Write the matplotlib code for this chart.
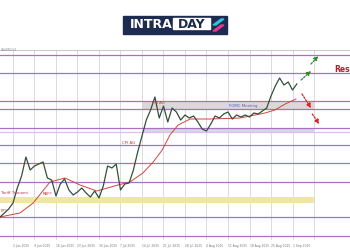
import matplotlib.pyplot as plt
from matplotlib.patches import Rectangle, Polygon

# price path (4H closes, one per day index)
days = list(range(-3, 67))
close = [3057, 3069, 3081, 3099, 3144, 3180, 3237, 3198, 3210, 3216,
         3222, 3174, 3168, 3120, 3156, 3171, 3138, 3123, 3132, 3144,
         3129, 3117, 3135, 3114, 3150, 3210, 3204, 3216, 3138, 3156,
         3159, 3198, 3252, 3300, 3348, 3378, 3417, 3354, 3390, 3342,
         3384, 3372, 3348, 3363, 3354, 3360, 3342, 3321, 3315, 3336,
         3360, 3354, 3366, 3372, 3351, 3363, 3357, 3363, 3357, 3369,
         3366, 3375, 3384, 3420, 3450, 3474, 3453, 3462, 3438, 3456]

ma_days = [-3.0, 1.6, 4.7, 8.6, 12.1, 15.6, 19.5, 24.4, 27.2, 30.2, 32.6,
           34.7, 36.5, 38.4, 41.2, 45.8, 52.8, 58.6, 60.9, 63.3, 65.8]
ma_vals = [3057, 3069, 3099, 3162, 3174, 3153, 3135, 3153, 3162, 3189, 3222,
           3258, 3303, 3333, 3351, 3351, 3354, 3369, 3378, 3396, 3411]

levels = [3543, 3489, 3405, 3381, 3324, 3273, 3219, 3162, 3057, 3000]
light_level = 3312
gray_zones = [(3381, 3405), (3312, 3324)]
yellow_zone = (3099, 3117)

grid_days = list(range(0, 71, 5))
date_labels = ["2 Jun 2025", "9 Jun 2025", "16 Jun 2025", "23 Jun 2025",
               "30 Jun 2025", "7 Jul 2025", "14 Jul 2025", "21 Jul 2025",
               "28 Jul 2025", "4 Aug 2025", "11 Aug 2025", "18 Aug 2025",
               "25 Aug 2025", "1 Sep 2025", ""]

notes = [("PPI AG", 32.3, 3399, "#c0392b"), ("CPI AG", 25.3, 3279, "#c0392b"),
         ("FOMC Meeting", 50.2, 3390, "#4a5fc1"), ("Tariff Tsunami", -2.9, 3129, "#c0392b"),
         ("RBP?", 7.0, 3126, "#c0392b"), ("PP?", -2.9, 3075, "#c0392b")]

up_arrows = [((67.0, 3468), (69.3, 3495)), ((69.3, 3516), (71.0, 3540))]
down_arrows = [((67.2, 3426), (69.3, 3384)), ((69.6, 3366), (71.2, 3336))]

fig = plt.figure(figsize=(3.5, 2.5), dpi=100)
ax = fig.add_axes([0, 0.04, 1, 0.76])
ax.set_xlim(-3.02, 78.37)
ax.set_ylim(2988, 3558)

for d in grid_days:
    ax.axvline(d, color="#d6d6d6", lw=0.6, zorder=0)
for lo, hi in gray_zones:
    ax.fill_between([30, 70], lo, hi, color="#d9d9d9", lw=0, zorder=1)
ax.fill_between([-3.02, 70], *yellow_zone, color="#efe6a4", lw=0, zorder=1)
for lv in levels:
    ax.axhline(lv, color="#a772c2", lw=0.9, zorder=2)
ax.axhline(light_level, color="#dcbfe8", lw=0.9, zorder=2)

ax.plot(ma_days, ma_vals, color="#d0463c", lw=0.7, zorder=3)
ax.plot(days, close, color="#34503a", lw=0.9, zorder=4)

for txt, x, y, c in notes:
    ax.text(x, y, txt, fontsize=2.8, color=c, va="center", ha="left", zorder=5)
ax.text(74.6, 3501, "Res", fontsize=5.5, color="#b01e2e",
        fontweight="bold", va="center", ha="left")

for (x0, y0), (x1, y1) in up_arrows:
    ax.annotate("", xy=(x1, y1), xytext=(x0, y0),
                arrowprops=dict(arrowstyle="-|>", ls=(0, (1.5, 1.2)), color="#2e8b2e",
                                lw=0.9, mutation_scale=6, shrinkA=0, shrinkB=0))
for (x0, y0), (x1, y1) in down_arrows:
    ax.annotate("", xy=(x1, y1), xytext=(x0, y0),
                arrowprops=dict(arrowstyle="-|>", ls=(0, (1.5, 1.2)), color="#d62020",
                                lw=0.9, mutation_scale=6, shrinkA=0, shrinkB=0))

ax.set_xticks(grid_days)
ax.set_xticklabels(date_labels, fontsize=2.2, color="#777777", ha="left")
ax.tick_params(axis="x", length=0, pad=3)
ax.set_yticks([])
for s in ["left", "right", "bottom"]:
    ax.spines[s].set_visible(False)
ax.spines["top"].set_color("#bdbdbd")
ax.spines["top"].set_linewidth(0.6)
fig.text(0.002, 0.793, "XAUUSD,H4", fontsize=2, color="#888888", va="bottom")

# logo
fig.patches.append(Rectangle((123 / 350, 216 / 250), 104 / 350, 18 / 250,
                             transform=fig.transFigure, color="#1e2b50"))
fig.patches.append(Rectangle((173 / 350, 221 / 250), 37 / 350, 11 / 250,
                             transform=fig.transFigure, color="white"))
fig.text(151 / 350, 226 / 250, "INTRA", color="white", fontsize=9,
         fontweight="bold", ha="center", va="center")
fig.text(191.5 / 350, 226 / 250, "DAY", color="#1e2b50", fontsize=9,
         fontweight="bold", ha="center", va="center")
fig.patches.append(Polygon([(213 / 350, 225 / 250), (221 / 350, 231 / 250),
                            (224 / 350, 231 / 250), (216 / 350, 225 / 250)],
                           transform=fig.transFigure, color="#2ec4d6"))
fig.patches.append(Polygon([(213 / 350, 219 / 250), (221 / 350, 225 / 250),
                            (224 / 350, 225 / 250), (216 / 350, 219 / 250)],
                           transform=fig.transFigure, color="#e8378f"))

fig.savefig("out.png", dpi=100)
